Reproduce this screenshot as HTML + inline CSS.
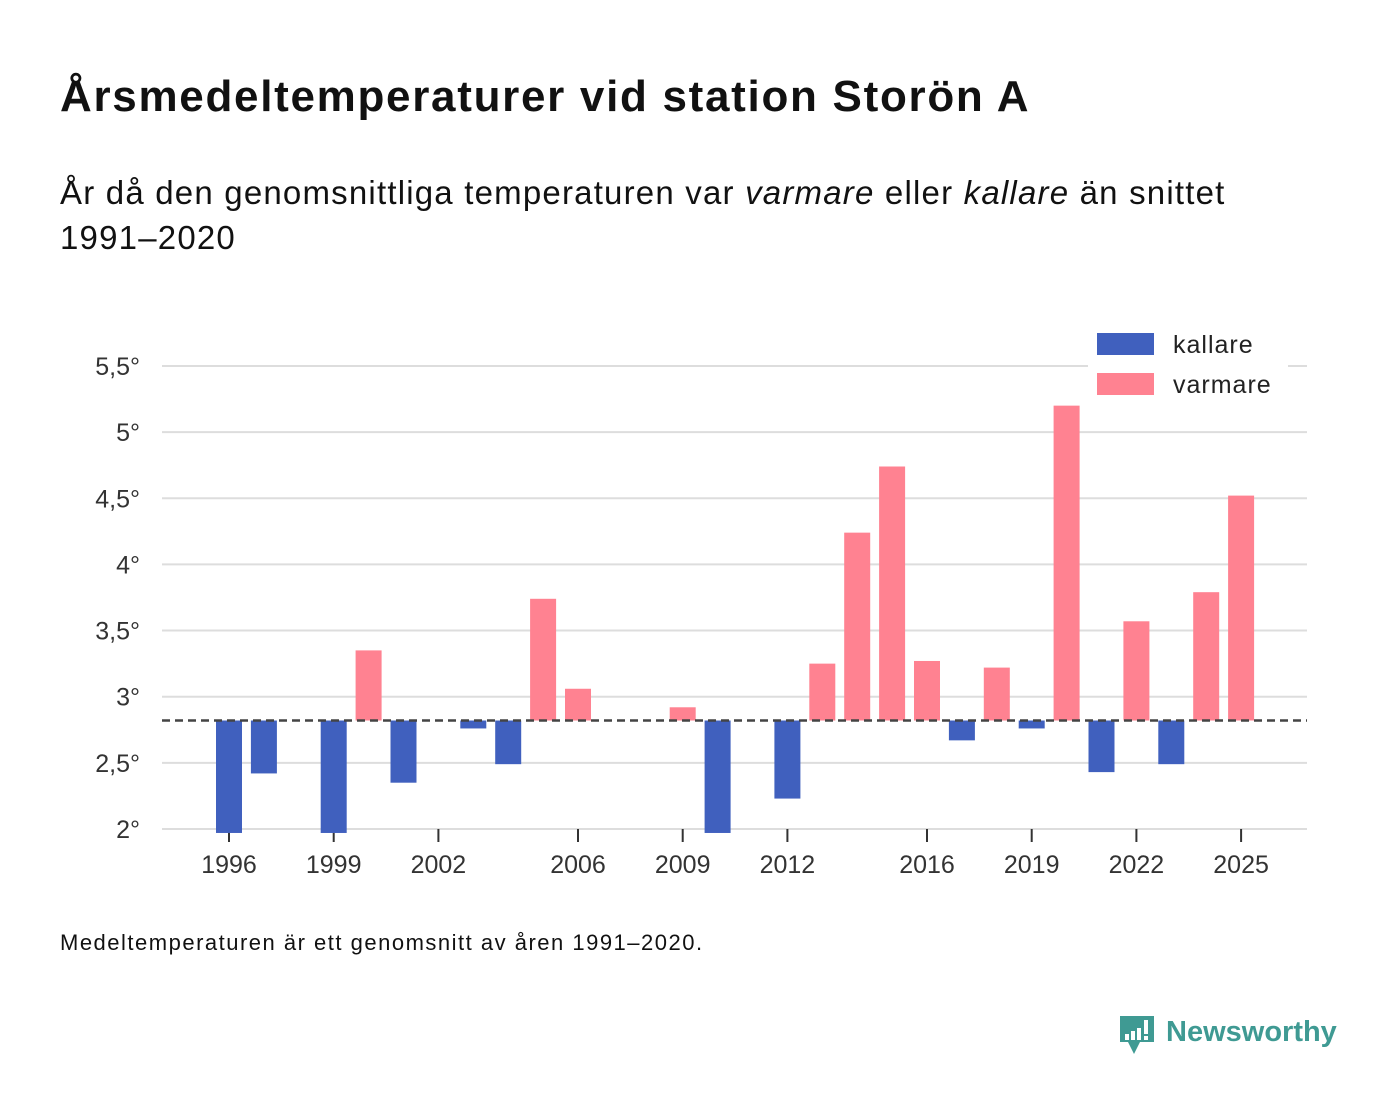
<!DOCTYPE html>
<html><head><meta charset="utf-8"><style>
body{margin:0;background:#fff;width:1400px;height:1116px;overflow:hidden;font-family:"Liberation Sans","DejaVu Sans",sans-serif;color:#111}
h1{position:absolute;left:60px;top:72px;margin:0;font-size:44px;letter-spacing:1.7px;font-weight:bold}
.sub{position:absolute;left:60px;top:170px;font-size:33px;letter-spacing:1.2px;line-height:45px;width:1190px}
.note{position:absolute;left:60px;top:930px;font-size:22px;letter-spacing:1.5px}
svg{position:absolute;left:0;top:0}
</style></head><body>
<h1>Årsmedeltemperaturer vid station Storön A</h1>
<div class="sub">År då den genomsnittliga temperaturen var <i>varmare</i> eller <i>kallare</i> än snittet 1991–2020</div>
<div class="note">Medeltemperaturen är ett genomsnitt av åren 1991–2020.</div>
<svg width="1400" height="1116" id="chart">
<g>
<path d="M1120 1016 h34 v26 h-14 l-6 12 l-6 -12 h-8 z" fill="#3f9a93"/>
<rect x="1125" y="1034" width="4" height="6" fill="#fff"/><rect x="1131" y="1031" width="4" height="9" fill="#fff"/><rect x="1137" y="1028" width="4" height="12" fill="#fff"/><rect x="1144" y="1020" width="4" height="14" fill="#fff"/><rect x="1144" y="1036" width="4" height="4" fill="#fff"/>
<text x="1166" y="1041" font-size="29" font-weight="bold" fill="#3f9a93" font-family="Liberation Sans, sans-serif">Newsworthy</text>
</g>
</svg>
<script>
const years=[1996,1997,1998,1999,2000,2001,2002,2003,2004,2005,2006,2007,2008,2009,2010,2011,2012,2013,2014,2015,2016,2017,2018,2019,2020,2021,2022,2023,2024,2025];
const temps=[1.97,2.42,null,1.97,3.35,2.35,null,2.76,2.49,3.74,3.06,null,null,2.92,1.97,null,2.23,3.25,4.24,4.74,3.27,2.67,3.22,2.76,5.2,2.43,3.57,2.49,3.79,4.52];
const baseline=2.82;
const yTicks=[2,2.5,3,3.5,4,4.5,5,5.5];
const xTicks=[1996,1999,2002,2006,2009,2012,2016,2019,2022,2025];
const svg=document.getElementById('chart');
const NS='http://www.w3.org/2000/svg';
const y=v=>829-(v-2)*132.3;
const x=yr=>229+(yr-1996)*34.9;
function mk(t,a){const e=document.createElementNS(NS,t);for(const k in a)e.setAttribute(k,a[k]);svg.appendChild(e);return e;}
yTicks.forEach(v=>{
 const l=mk('line',{x1:162,x2:1307,y1:y(v),y2:y(v),stroke:'#ddd','stroke-width':2});
 
 
 const t=mk('text',{x:140,y:y(v)+9,'text-anchor':'end','font-size':25,fill:'#333'});
 t.textContent=String(v).replace('.',',')+'°';
 
 
});
xTicks.forEach(v=>{
 const l=mk('line',{x1:x(v),x2:x(v),y1:829,y2:842,stroke:'#333','stroke-width':2});
 
 
 const t=mk('text',{x:x(v),y:873,'text-anchor':'middle','font-size':25,fill:'#333'});
 t.textContent=v;
 
 
});
years.forEach((yr,i)=>{
 const v=temps[i]; if(v==null)return;
 const top=Math.min(y(v),y(baseline)),h=Math.abs(y(v)-y(baseline));
 const r=mk('rect',{x:x(yr)-13,y:top,width:26,height:h,fill:v>baseline?'#ff8291':'#4060be'});
 
 
});
const bl=mk('line',{x1:162,x2:1307,y1:y(baseline),y2:y(baseline),stroke:'#444','stroke-width':2.5,'stroke-dasharray':'8,5'});


mk('rect',{x:1088,y:326,width:200,height:82,fill:'#fff'});
[['kallare','#4060be',344],['varmare','#ff8291',384]].forEach(([n,c,yy])=>{
 const r=mk('rect',{x:1097,y:yy-11,width:57,height:22,fill:c});
 
 
 const t=mk('text',{x:1173,y:yy+9,'font-size':25,'letter-spacing':1,fill:'#222'});
 t.textContent=n;
 
 
});
</script>
</body></html>
